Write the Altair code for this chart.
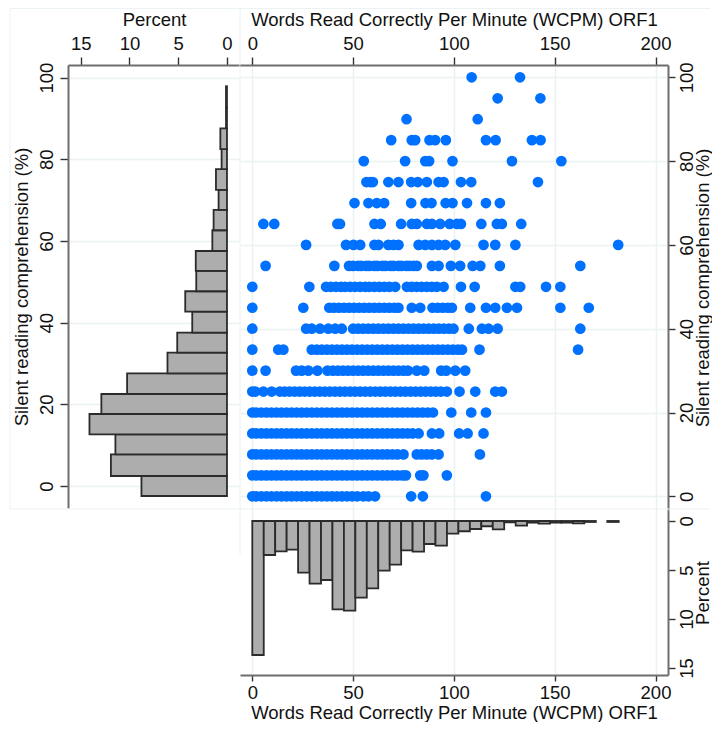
import altair as alt
import pandas as pd

FONT = "Liberation Sans"
BLUE = "#0070FF"
PALE = "#EAF2F3"
AXIS = "#6E6E6E"
TICK = "#333333"
BAR = "#ADADAD"
EDGE = "#2B2B2B"

x_title = "Words Read Correctly Per Minute (WCPM) ORF1"
y_title = "Silent reading comprehension (%)"
pct_title = "Percent"

xh_pct = [13.67, 3.47, 3.1, 2.93, 5.27, 6.39, 6.02, 9.01, 9.15, 7.82, 6.87, 5.07, 4.46, 2.99, 3.13, 2.35,
          2.52, 1.29, 1.05, 0.82, 0.54, 0.85, 0.14, 0.48, 0.17, 0.27, 0.17, 0.17, 0.24, 0.1, 0, 0.1]
xh_edges = [0, 5.68, 11.36, 17.04, 22.72, 28.4, 34.08, 39.76, 45.44, 51.12, 56.8, 62.48, 68.16, 73.84,
            79.52, 85.2, 90.88, 96.56, 102.24, 107.92, 113.6, 119.28, 124.96, 130.64, 136.32, 142.0,
            147.68, 153.36, 159.04, 164.72, 170.4, 176.08, 181.76]

yh_pct = [8.77, 11.9, 11.44, 14.1, 12.88, 10.24, 6.1, 5.1, 3.56, 4.28, 3.15, 3.2, 1.5, 1.37, 0.86, 1.13,
          0.55, 0.68, 0.1, 0.1]
yh_edges = [-2.45, 2.45, 7.76, 12.66, 17.63, 22.53, 27.6, 32.65, 37.55, 42.69, 47.69, 52.66, 57.55,
            62.63, 67.6, 72.5, 77.6, 82.5, 87.6, 92.7, 97.9]

row_100 = [108.8, 132.8]
row_95 = [121.7, 142.9]
row_90 = [76.5, 111.8]
row_85 = [68.9, 79.1, 80.8, 87.9, 90.7, 96, 115.9, 120.7, 138.7, 143]
row_80 = [55.3, 75.8, 85.8, 87.7, 99.3, 128.8, 153.3]
row_75 = [56.6, 58.5, 59.8, 67.5, 72.5, 78.8, 82.1, 86.6, 92.4, 94.9, 103.5, 108.6, 141.7]
row_70 = [50.7, 57.6, 61.8, 65.4, 78.8, 85.9, 88.9, 95.9, 99.3, 106.5, 115.9, 122.8]
row_65 = [5.5, 10.9, 42.2, 43.5, 60.6, 63.7, 73.8, 79.1, 81.6, 86.6, 89.1, 93.2, 97.9, 101.5, 103.5,
          113.6, 121.3, 123.8, 133.4]
row_60 = [26.7, 46.5, 50.2, 53.5, 60.6, 62.6, 67.5, 70, 72.5, 82.5, 85.8, 89.1, 92.4, 95.7, 100.7,
          114.7, 120.5, 130.5, 181.5]
row_55 = [6.6, 40.7, 48, 50, 52.5, 54, 56.5, 58, 60.5, 62, 64.5, 66, 68.5, 70, 72.5, 74, 76.5, 78, 80, 81.6,
          89.1, 92.4, 98.5, 103.1, 109.3, 113.1, 122.8, 162.7]
row_50 = [0, 28.3, 36.6, 39, 41.5, 44, 46, 48.5, 51, 53.5, 56, 58, 60.5, 63, 65.5, 68, 70.9,
          76.7, 79, 81.5, 84, 86.5, 89, 91.5, 94.9, 103.5, 110.3, 130.5, 132.9, 145.7, 152.8]
row_45 = [0, 25.3, 38.2, 40.5, 43, 45.5, 48, 50.5, 53, 55.5, 58, 60.5, 63, 65.5, 68, 70.5, 72.5,
          79.1, 83.3, 89.4, 92, 94.5, 97, 99, 108.1, 115.9, 120.5, 126.3, 131.3, 152.8, 166.9]
row_40 = [0, 26.7, 29.5, 33.6, 37.7, 41.1, 44.4, 50, 52.5, 55, 57.5, 60, 62.5, 65, 67.5, 70, 72.5, 75, 77.5,
          80, 82.5, 85, 87.5, 90, 92.5, 95, 97.5, 99.8, 107.4, 113.9, 117.2, 121.7, 162.7]
row_35 = [0, 12.9, 15.4, 29.5, 32, 34.5, 37, 39.5, 42, 44.5, 47, 49.5, 52, 54.5, 57, 59.5, 62, 64.5, 67,
          69.5, 72, 74.5, 77, 79.5, 82, 84.5, 87, 89.5, 92, 94.5, 97, 99.5, 102, 104, 112.7, 161.6]
row_30 = [0, 6.6, 21.7, 24.5, 27.8, 32.3, 37.3, 40, 42.5, 45, 47.5, 50, 52.5, 55, 57.5, 60, 62.5, 65, 67.5,
          70, 72.5, 75, 77.2, 81.6, 85.3, 93.7, 96.2, 100.7, 105.6]
row_25 = [0, 1.5, 5.5, 9.6, 13.7, 16, 18.5, 21, 23.5, 26, 28.5, 31, 33.5, 36, 38.5, 41, 43.5, 46, 48.5, 51,
          53.5, 56, 58.5, 61, 63.5, 66, 68.5, 71, 73.5, 76, 78.5, 81, 83.5, 86, 88.5, 91, 93.5, 96.5,
          102.8, 110.6, 120.5, 123.8]
row_20 = [0, 2, 4.5, 7, 9.5, 12, 14.5, 17, 19.5, 22, 24.5, 27, 29.5, 32, 34.5, 37, 39.5, 42, 44.5, 47, 49.5,
          52, 54.5, 57, 59.5, 62, 64.5, 67, 69.5, 72, 74.5, 77, 79.5, 82, 84.5, 87, 89.6, 98.7, 108.6, 115.9]
row_15 = [0, 2, 4.5, 7, 9.5, 12, 14.5, 17, 19.5, 22, 24.5, 27, 29.5, 32, 34.5, 37, 39.5, 42, 44.5, 47, 49.5,
          52, 54.5, 57, 59.5, 62, 64.5, 67, 69.5, 72, 74.5, 77, 79.5, 82.5, 89.1, 92.7, 102.6, 106.8, 114.7]
row_10 = [0, 2, 4.5, 7, 9.5, 12, 14.5, 17, 19.5, 22, 24.5, 27, 29.5, 32, 34.5, 37, 39.5, 42, 44.5, 47, 49.5,
          52, 54.5, 57, 59.5, 62, 64.5, 67, 69.5, 72, 75, 81.6, 84, 86.5, 89, 92.4, 112.9]
row_5 = [0, 2, 4.5, 7, 9.5, 12, 14.5, 17, 19.5, 22, 24.5, 27, 29.5, 32, 34.5, 37, 39.5, 42, 44.5, 47, 49.5,
         52, 54.5, 57, 59.5, 62, 64.5, 67, 69.5, 72, 74.5, 76.2, 83.3, 84.9, 96.5]
row_0 = [0, 2, 4.5, 7, 9.5, 12, 14.5, 17, 19.5, 22, 24.5, 27, 29.5, 32, 34.5, 37, 39.5, 42, 44.5, 47, 49.5,
         52, 55.1, 57.6, 60.9, 78.8, 84.6, 115.9]

rows = {100: row_100, 95: row_95, 90: row_90, 85: row_85, 80: row_80, 75: row_75, 70: row_70, 65: row_65,
        60: row_60, 55: row_55, 50: row_50, 45: row_45, 40: row_40, 35: row_35, 30: row_30, 25: row_25,
        20: row_20, 15: row_15, 10: row_10, 5: row_5, 0: row_0}

scatter_df = pd.DataFrame([{"wcpm": x, "score": y} for y, xs in rows.items() for x in xs])
left_df = pd.DataFrame({"pct": yh_pct, "lo": yh_edges[:-1], "hi": yh_edges[1:], "zero": [0] * len(yh_pct)})
bottom_df = pd.DataFrame({"pct": xh_pct, "lo": xh_edges[:-1], "hi": xh_edges[1:], "zero": [0] * len(xh_pct)})
bottom_df = bottom_df[bottom_df.pct > 0]
one = pd.DataFrame({"v": [0]})

X_DOMAIN = [-6.1, 206.2]
TICKS_X = [0, 50, 100, 150, 200]
TICKS_Y = [0, 20, 40, 60, 80, 100]
TICKS_P = [0, 5, 10, 15]

common = dict(domainColor=AXIS, domainWidth=2, tickColor=TICK, tickWidth=1.4,
              labelFont=FONT, titleFont=FONT, labelFontSize=18.5, titleFontSize=18.5,
              labelColor="#111111", titleColor="#111111", titleFontWeight="normal",
              gridColor=PALE, gridWidth=1.6)


def hline(x1, x2, y):
    return alt.Chart(one).mark_rule(color=PALE, strokeWidth=1).encode(
        x=alt.value(x1), x2=alt.value(x2), y=alt.value(y))


def vline(x, y1, y2):
    return alt.Chart(one).mark_rule(color=PALE, strokeWidth=1).encode(
        x=alt.value(x), y=alt.value(y1), y2=alt.value(y2))


# left marginal histogram
left_bars = alt.Chart(left_df).mark_rect(fill=BAR, stroke=EDGE, strokeWidth=1.8).encode(
    x=alt.X("pct:Q", scale=alt.Scale(domain=[16.3, -1.336], nice=False, zero=False),
            axis=alt.Axis(orient="top", values=TICKS_P, grid=False, title=pct_title, titlePadding=5,
                          tickSize=8, labelPadding=4, **common)),
    x2="zero:Q",
    y=alt.Y("lo:Q", scale=alt.Scale(domain=[-5.39, 103.1], nice=False, zero=False),
            axis=alt.Axis(orient="left", values=TICKS_Y, grid=True, title=y_title, labelAngle=-90,
                          labelAlign="center", labelBaseline="bottom", titlePadding=6,
                          tickSize=8, labelPadding=4, **common)),
    y2="hi:Q",
)
left = alt.layer(
    hline(-58, 172, -56.5), vline(-58, -56.5, 444), hline(-58, 172, 444), vline(172, -56.5, 490), left_bars
).properties(width=172, height=443)

# scatter
main_pts = alt.Chart(scatter_df).mark_circle(size=115, color=BLUE, opacity=1).encode(
    x=alt.X("wcpm:Q", scale=alt.Scale(domain=X_DOMAIN, nice=False, zero=False),
            axis=alt.Axis(orient="top", values=TICKS_X, grid=True, title=x_title, titlePadding=5,
                          tickSize=8, labelPadding=4, **common)),
    y=alt.Y("score:Q", scale=alt.Scale(domain=[-3.27, 102.94], nice=False, zero=False),
            axis=alt.Axis(orient="right", values=TICKS_Y, grid=True, title=y_title, labelAngle=-90,
                          labelAlign="center", labelBaseline="top", titleAngle=-90, titleBaseline="top",
                          titlePadding=-2, tickSize=7, labelPadding=2, **common)),
)
main = alt.layer(hline(0, 470, -56.5), hline(0, 470, 444), main_pts).properties(width=428, height=445)

# spacer below the left histogram
spacer = alt.Chart(one).mark_point(opacity=0).encode(
    x=alt.X("v:Q", axis=None), y=alt.Y("v:Q", axis=None)
).properties(width=172, height=165)

# bottom marginal histogram
bottom = alt.Chart(bottom_df).mark_rect(fill=BAR, stroke=EDGE, strokeWidth=1.8).encode(
    x=alt.X("lo:Q", scale=alt.Scale(domain=X_DOMAIN, nice=False, zero=False),
            axis=alt.Axis(orient="bottom", values=TICKS_X, grid=True, title=x_title, titlePadding=2,
                          tickSize=6, labelPadding=2, **common)),
    x2="hi:Q",
    y=alt.Y("pct:Q", scale=alt.Scale(domain=[15.71, -1.12], nice=False, zero=False),
            axis=alt.Axis(orient="right", values=TICKS_P, grid=False, title=pct_title, labelAngle=-90,
                          labelAlign="center", labelBaseline="top", titleAngle=-90, titleBaseline="top",
                          titlePadding=-2, tickSize=7, labelPadding=2, **common)),
    y2="zero:Q",
).properties(width=428, height=165)

chart = alt.concat(left, main, spacer, bottom, columns=2, spacing=0, bounds="flush", align="each").configure(
    background="white"
).properties(padding={"left": 1, "top": 0, "right": 0, "bottom": 0}).configure_view(stroke=None)

chart.save("out.html", embed_options={"renderer": "svg", "actions": False})
